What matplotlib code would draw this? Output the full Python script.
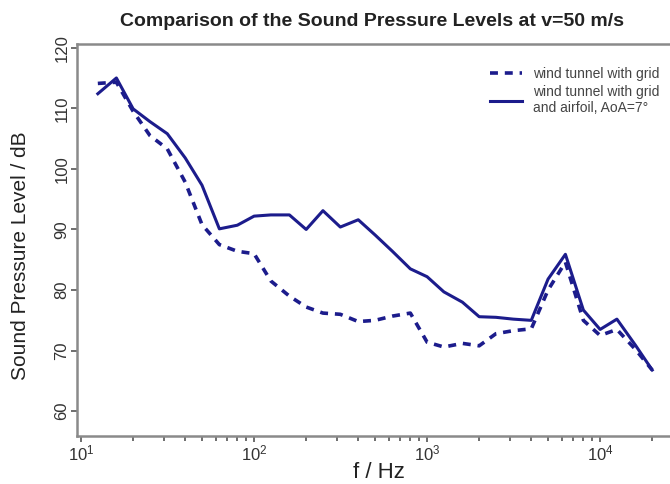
import matplotlib
matplotlib.use("Agg")
import matplotlib.pyplot as plt
import numpy as np
from matplotlib.ticker import LogLocator, NullFormatter, FixedLocator

plt.rcParams['font.family'] = ['Liberation Sans', 'DejaVu Sans']
plt.rcParams['mathtext.default'] = 'regular'

freq = [12.5, 16, 20, 25, 31.5, 40, 50, 63, 80, 100, 125, 160, 200, 250, 315,
        400, 500, 630, 800, 1000, 1250, 1600, 2000, 2500, 3150, 4000, 5000,
        6300, 8000, 10000, 12500, 16000, 20000]

spl_grid = [114.1, 114.3, 109.5, 105.5, 103.3, 97.8, 90.8, 87.5, 86.4, 86.0,
            81.5, 79.0, 77.2, 76.2, 76.0, 74.8, 75.0, 75.7, 76.2, 71.4, 70.6,
            71.2, 70.8, 72.8, 73.3, 73.6, 80.0, 84.6, 75.0, 72.5, 73.5, 70.2, 66.8]

spl_airfoil = [112.4, 115.0, 109.9, 107.8, 105.8, 101.8, 97.3, 90.1, 90.7, 92.2,
               92.4, 92.4, 90.0, 93.1, 90.4, 91.6, 89.1, 86.4, 83.5, 82.2, 79.7,
               78.0, 75.6, 75.5, 75.2, 75.0, 81.8, 85.9, 76.7, 73.5, 75.2, 70.9, 66.8]

yticks = [60, 70, 80, 90, 100, 110, 120]
xticks = [10, 100, 1000, 10000]
xticklabels = ['$10^1$', '$10^2$', '$10^3$', '$10^4$']

color = '#1c1c8c'
fig = plt.figure(figsize=(6.7, 4.84), dpi=100)
ax = fig.add_axes([0.115, 0.099, 0.9, 0.81])

ax.plot(freq, spl_grid, linestyle=(0, (2.2, 1.9)), color=color, lw=2.6,
        label='wind tunnel with grid')
ax.plot(freq, spl_airfoil, linestyle='-', color=color, lw=2.2,
        label='wind tunnel with grid\nand airfoil, AoA=7°')

ax.set_xscale('log')
ax.set_xlim(9.48, 28970)
ax.set_ylim(55.9, 120.6)

ax.xaxis.set_major_locator(FixedLocator(xticks))
ax.set_xticklabels(xticklabels)
ax.xaxis.set_minor_locator(LogLocator(base=10, subs=np.arange(2, 10)))
ax.xaxis.set_minor_formatter(NullFormatter())
ax.set_yticks(yticks)
ax.set_yticklabels([str(v) for v in yticks], rotation=90, va='center')

for s in ax.spines.values():
    s.set_color('#8a8a8a')
    s.set_linewidth(1.8)

ax.tick_params(axis='both', which='major', direction='out', length=4,
               width=1.2, color='#555555', labelsize=12, labelcolor='#333333')
ax.tick_params(axis='x', which='minor', direction='out', length=3.5,
               width=1.2, color='#555555')
ax.tick_params(axis='y', pad=1.5)
ax.tick_params(axis='x', pad=1)

ax.set_xlabel('f / Hz', fontsize=16, color='#222222', labelpad=-1)
ax.set_ylabel('Sound Pressure Level / dB', fontsize=15, color='#222222')
ax.yaxis.set_label_coords(-0.078, 0.46)
fig.text(0.555, 0.955, 'Comparison of the Sound Pressure Levels at v=50 m/s',
         ha='center', va='center', fontsize=14, fontweight='bold', color='#222222')

leg = ax.legend(loc='upper left', bbox_to_anchor=(0.675, 0.956), frameon=False,
                fontsize=10, handlelength=2.3, labelspacing=0.3,
                handletextpad=0.8, borderaxespad=0)
for t in leg.get_texts():
    t.set_color('#444444')

fig.savefig('out.png', dpi=100)
